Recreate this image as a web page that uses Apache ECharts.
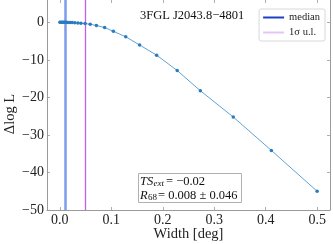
<!DOCTYPE html>
<html><head><meta charset="utf-8">
<script src="https://cdn.jsdelivr.net/npm/echarts@6/dist/echarts.min.js"></script>
<style>html,body{margin:0;padding:0;background:#fff}#c{width:333px;height:244px}</style>
</head><body><div id="c"></div>
<script>
const widths = [0, 0.002, 0.004, 0.006, 0.008, 0.010, 0.013, 0.016, 0.020, 0.024, 0.029, 0.035, 0.041, 0.049, 0.059, 0.071, 0.087, 0.104, 0.128, 0.155, 0.188, 0.228, 0.273, 0.337, 0.411, 0.500];
const dlogL = [0.05, 0.06, 0.07, 0.07, 0.07, 0.06, 0.05, 0.03, 0.0, -0.03, -0.07, -0.12, -0.18, -0.28, -0.45, -0.8, -1.35, -2.35, -3.8, -6.0, -8.7, -12.8, -18.2, -25.2, -34.1, -45.0];
const xTicks = [0, 0.1, 0.2, 0.3, 0.4, 0.5];
const yTicks = [0, -10, -20, -30, -40, -50];
const medianWidth = 0.008;
const ulWidth = 0.054;
const title = '3FGL J2043.8\u22124801';
const tsExt = '\u22120.02';
const r68 = '0.008 \u00b1 0.046';

const SERIF = '"Liberation Serif","DejaVu Serif",serif';
const GREY = '#9a9a9a';
const chart = echarts.init(document.getElementById('c'), null, {renderer: 'canvas'});
const minus = v => String(v).replace('-', '\u2212');
const tickStyle = {show: true, inside: true, length: 3, lineStyle: {color: GREY, width: 0.8}};
chart.setOption({
  animation: false,
  grid: {left: 47, right: 3, top: 0, bottom: 34, containLabel: false, outerBoundsMode: 'none'},
  xAxis: [{
    type: 'value', min: -0.025, max: 0.525, position: 'bottom',
    axisLine: {show: true, onZero: false, lineStyle: {color: GREY, width: 1}},
    axisTick: Object.assign({customValues: xTicks}, tickStyle),
    axisLabel: {customValues: xTicks, formatter: v => v.toFixed(1), color: '#222', fontFamily: SERIF, fontSize: 14, margin: 3},
    splitLine: {show: false},
    name: 'Width [deg]', nameLocation: 'middle', nameGap: 17, nameMoveOverlap: false,
    nameTextStyle: {color: '#222', fontFamily: SERIF, fontSize: 14.5, verticalAlign: 'top'}
  }, {
    type: 'value', min: -0.025, max: 0.525, position: 'top',
    axisLine: {show: false, onZero: false},
    axisTick: Object.assign({customValues: xTicks}, tickStyle),
    axisLabel: {show: false}, splitLine: {show: false}
  }],
  yAxis: [{
    type: 'value', min: -50, max: 6, position: 'left',
    axisLine: {show: true, onZero: false, lineStyle: {color: GREY, width: 1}},
    axisTick: Object.assign({customValues: yTicks}, tickStyle),
    axisLabel: {customValues: yTicks, formatter: v => minus(v), color: '#222', fontFamily: SERIF, fontSize: 14, margin: 3},
    splitLine: {show: false},
    name: '\u0394log L', nameLocation: 'middle', nameGap: 29, nameRotate: 90, nameMoveOverlap: false,
    nameTextStyle: {color: '#222', fontFamily: SERIF, fontSize: 14.5, padding: [0, 0, 0, -18]}
  }, {
    type: 'value', min: -50, max: 6, position: 'right',
    axisLine: {show: true, onZero: false, lineStyle: {color: GREY, width: 1}},
    axisTick: Object.assign({customValues: yTicks}, tickStyle),
    axisLabel: {show: false}, splitLine: {show: false}
  }],
  legend: {
    right: 8, top: 9, orient: 'vertical', itemWidth: 21, itemHeight: 2, itemGap: 4,
    icon: 'rect', padding: [3, 5, 3, 4],
    backgroundColor: '#fff', borderColor: '#d8d8d8', borderWidth: 1, borderRadius: 2,
    textStyle: {fontFamily: SERIF, fontSize: 10.5, color: '#222'},
    data: ['median', '1\u03c3 u.l.']
  },
  series: [{
    type: 'line', name: 'data', data: widths.map((w, i) => [w, dlogL[i]]),
    symbol: 'circle', symbolSize: 3.5, showSymbol: true,
    lineStyle: {color: '#3a8ac8', width: 0.8}, itemStyle: {color: '#2a7bbd'}, z: 5
  }, {
    type: 'line', name: 'median', data: [], color: '#1c3fc4',
    markLine: {silent: true, symbol: 'none', label: {show: false},
      lineStyle: {color: '#7d9cec', width: 2.5, type: 'solid'},
      data: [{xAxis: medianWidth}]}
  }, {
    type: 'line', name: '1\u03c3 u.l.', data: [], color: '#e4c6f6',
    markLine: {silent: true, symbol: 'none', label: {show: false},
      lineStyle: {color: '#c45cf0', width: 1.3, type: 'solid', opacity: 1},
      data: [{xAxis: ulWidth}]}
  }],
  graphic: [
    {type: 'text', left: 140, top: 9, style: {text: title, font: '12.5px ' + SERIF, fill: '#111'}},
    {type: 'rect', shape: {x: 138.5, y: 173.5, width: 103, height: 29}, style: {fill: '#fff', stroke: '#b0b0b0', lineWidth: 1}, z: 10},
    {type: 'text', x: 140, y: 175, z: 11, style: {text: 'TS', font: 'italic 12.5px ' + SERIF, fill: '#111'}},
    {type: 'text', x: 153.5, y: 179, z: 11, style: {text: 'ext', font: 'italic 9px ' + SERIF, fill: '#111'}},
    {type: 'text', x: 166, y: 175, z: 11, style: {text: '= ' + tsExt, font: '12.5px ' + SERIF, fill: '#111'}},
    {type: 'text', x: 140, y: 189, z: 11, style: {text: 'R', font: 'italic 12.5px ' + SERIF, fill: '#111'}},
    {type: 'text', x: 148, y: 193, z: 11, style: {text: '68', font: '9px ' + SERIF, fill: '#111'}},
    {type: 'text', x: 158, y: 189, z: 11, style: {text: '= ' + r68, font: '12.5px ' + SERIF, fill: '#111'}}
  ]
});
</script></body></html>
